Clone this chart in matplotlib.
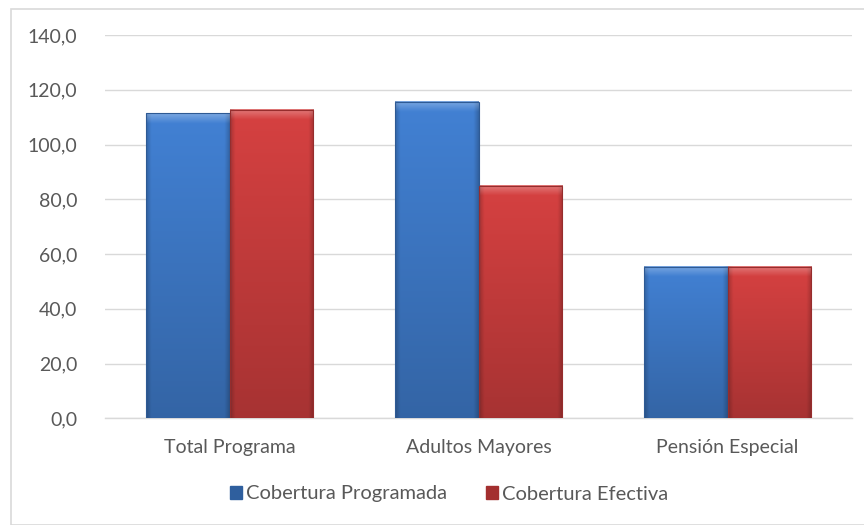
import numpy as np
import matplotlib
matplotlib.use("Agg")
import matplotlib.pyplot as plt
from matplotlib.patches import Rectangle
from matplotlib.ticker import FuncFormatter

categories = ["Total Programa", "Adultos Mayores", "Pensión Especial"]
series_names = ["Cobertura Programada", "Cobertura Efectiva"]
programada = [111.4, 115.5, 55.2]
efectiva = [112.6, 85.0, 55.2]
y_ticks = [0, 20, 40, 60, 80, 100, 120, 140]

plt.rcParams['font.family'] = ['Lato', 'DejaVu Sans']

W, H = 864, 525
fig = plt.figure(figsize=(W / 100, H / 100), dpi=100)
ax = fig.add_axes([105 / W, 1 - 418.3 / H, (852 - 105) / W, (418.3 - 35) / H])

base_colors = [np.array([0x42, 0x81, 0xD4]) / 255, np.array([0xD6, 0x41, 0x41]) / 255]
legend_colors = ["#2F5F9E", "#A32F2F"]
width = 0.335
x = np.arange(len(categories))

def shaded_bar(ax, xc, h, color):
    x0, x1 = xc - width / 2, xc + width / 2
    ny, nx = 300, 80
    yy = np.linspace(1, 0, ny)[:, None]  # top -> bottom
    xx = np.linspace(0, 1, nx)[None, :]
    shade = 0.78 + 0.22 * yy
    img = color[None, None, :] * shade[..., None] * np.ones((1, nx, 1))
    edge = np.minimum(xx, 1 - xx)
    edge_f = np.clip(edge / 0.06, 0, 1)
    img = img * (0.8 + 0.2 * edge_f)[..., None]
    bevel_px = 10 / max(h * 2.738, 1)
    top_f = np.clip((yy - (1 - bevel_px)) / bevel_px, 0, 1)
    img = img + (1 - img) * (0.3 * top_f)[..., None] * np.ones((1, nx, 1))
    img = np.clip(img, 0, 1)
    ax.imshow(img, extent=[x0, x1, 0, h], aspect='auto', zorder=3,
              interpolation='bilinear')
    ax.add_patch(Rectangle((x0, 0), width, h, fill=False,
                           edgecolor=tuple(color * 0.7), linewidth=0.8, zorder=4))

for i in range(len(categories)):
    shaded_bar(ax, x[i] - width / 2, programada[i], base_colors[0])
    shaded_bar(ax, x[i] + width / 2, efectiva[i], base_colors[1])

ax.set_xlim(-0.5, len(categories) - 0.5)
ax.set_ylim(0, 140)
ax.set_yticks(y_ticks)
ax.yaxis.set_major_formatter(FuncFormatter(lambda v, p: f"{v:.1f}".replace(".", ",")))
ax.set_xticks(x)
ax.set_xticklabels(categories)
ax.grid(axis='y', color='#D9D9D9', linewidth=1, zorder=0)
ax.set_axisbelow(True)
for s in ['top', 'right', 'left']:
    ax.spines[s].set_visible(False)
ax.spines['bottom'].set_color('#D9D9D9')
ax.spines['bottom'].set_linewidth(1)
ax.tick_params(axis='both', length=0, labelsize=14, colors='#595959')
ax.tick_params(axis='y', pad=20)
ax.tick_params(axis='x', pad=15)

handles = [Rectangle((0, 0), 1, 1, facecolor=c, edgecolor=c) for c in legend_colors]
fig.legend(handles, series_names, loc='center', bbox_to_anchor=(449 / W, 1 - 494 / H),
           ncol=2, frameon=False, fontsize=14.5, labelcolor='#595959',
           handlelength=0.6, handleheight=0.6, handletextpad=0.2, columnspacing=1.9)

fig.patches.append(Rectangle((11 / W, 0), 1, 1 - 9 / H, transform=fig.transFigure,
                             fill=False, edgecolor='#D9D9D9', linewidth=1.2))

fig.savefig("out.png", dpi=100)
